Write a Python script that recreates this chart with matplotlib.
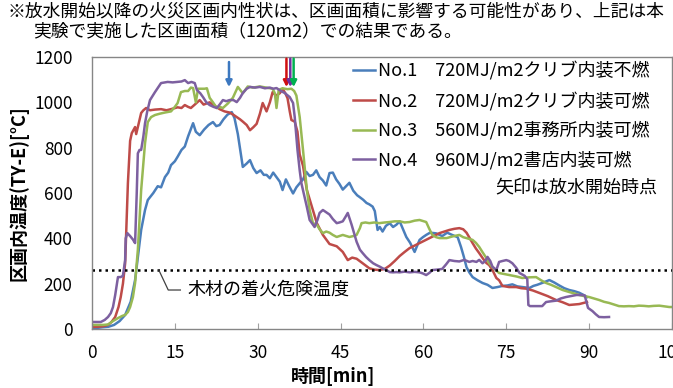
import matplotlib
matplotlib.use("Agg")
import matplotlib.pyplot as plt

plt.rcParams['font.family'] = ['Noto Sans CJK JP', 'DejaVu Sans']

# No.1 720MJ/m2 crib, noncombustible lining
t1 = [0, 1, 2, 3, 4, 5, 6, 7, 7.8, 8.3, 8.9, 9.6, 10.1, 11.1, 11.9, 12.5, 13.2, 13.8, 14.3, 15,
      15.5, 16.2, 16.8, 17.4, 18.3, 18.8, 19.5, 20.3, 21.1, 21.9, 22.5, 23.1, 23.8, 24.5, 25.3, 25.8,
      26.4, 27.3, 28, 28.6, 29.2, 29.8, 30.5, 31.1, 31.6, 32.2, 32.8, 33.4, 34, 34.5, 35.1, 35.7,
      36.4, 37, 37.6, 38.2, 38.8, 39.4, 40, 40.6, 41.2, 41.8, 42.4, 43, 43.6, 44.2, 44.8, 45.4, 46,
      46.6, 47.3, 48, 48.4, 49.1, 49.7, 50.2, 50.8, 51.2, 51.7, 52.1, 52.6, 53.2, 53.9, 54.5, 55.1,
      55.7, 56.3, 56.9, 57.6, 58.4, 59.3, 59.9, 60.5, 61.2, 62.3, 63.4, 64.3, 65.2, 66.2, 66.8, 67.3,
      67.8, 68.3, 68.9, 69.8, 70.7, 71.6, 72.5, 73.4, 74.3, 75.2, 76.1, 77, 77.9, 78.6, 79.2, 79.9,
      80.6, 81.7, 82.8, 83.7, 84.6, 85.5, 86.4, 87.3, 88.2, 89, 89.6]
T1 = [5, 5, 8, 10, 18, 35, 62, 120, 216, 318, 437, 525, 569, 600, 630, 625, 670, 690, 723, 740,
      760, 790, 805, 850, 908, 870, 855, 880, 900, 913, 895, 900, 925, 945, 957, 930,
      860, 715, 730, 745, 710, 688, 700, 680, 680, 665, 690, 670, 650, 613, 660, 630,
      598, 625, 643, 660, 693, 675, 680, 700, 670, 655, 633, 688, 690, 660, 640, 615, 630,
      645, 610, 590, 583, 570, 556, 550, 540, 520, 437, 450, 430, 455, 467, 450, 460,
      475, 440, 406, 380, 340, 393, 405, 415, 425, 422, 410, 425, 415, 405, 362, 320,
      273, 250, 229, 215, 203, 195, 181, 185, 190, 192, 197, 188, 185, 183, 181, 190,
      195, 205, 216, 205, 192, 180, 172, 167, 160, 150, 141]

# No.2 720MJ/m2 crib, combustible lining
t2 = [0, 1, 2, 2.9, 3.5, 4.2, 4.8, 5.2, 5.6, 6, 6.5, 6.9, 7.2, 7.8, 8, 8.3, 8.9, 9.3, 9.8, 10.5,
      11.4, 12.5, 13.5, 14.3, 15.5, 16.2, 16.8, 17.4, 17.9, 18.6, 19.5, 20.2, 21.3, 22.2, 23.1, 24,
      24.9, 25.6, 26.2, 26.8, 27.3, 28, 28.6, 29.2, 29.8, 30.4, 30.9, 31.6, 32.2, 32.7, 33.3, 34,
      34.5, 35, 35.4, 35.8, 36.1, 36.7, 37.2, 37.6, 38.2, 38.9, 39.8, 40.7, 41.8, 43, 44.3, 45.4,
      46.3, 47.1, 47.9, 49, 50.2, 51.1, 52, 53, 53.9, 54.8, 55.7, 56.6, 57.5, 58.4, 59.3, 60.2,
      61.1, 62, 62.9, 63.8, 64.7, 65.6, 66.5, 67.2, 67.8, 68.4, 68.9, 69.5, 70.1, 70.8, 71.4, 71.9,
      72.5, 73.2, 73.7, 74.3, 75.5, 76.8, 77.7, 78.6, 79.8, 81, 82.5, 84, 85.2, 86.4, 87.3, 88.2,
      89, 89.6]
T2 = [9, 10, 12, 18, 30, 53, 97, 141, 200, 290, 644, 830, 864, 891, 860, 891, 953, 965, 975, 965,
      968, 970, 965, 970, 978, 975, 988, 980, 975, 990, 1010, 990, 1000, 985, 970, 960,
      955, 945, 935, 925, 915, 900, 877, 890, 905, 950, 997, 960, 1000, 1045, 1030, 1040,
      1060, 1040, 1018, 960, 922, 915, 870, 770, 720, 613, 540, 467, 415, 375, 365, 340,
      304, 315, 310, 290, 268, 262, 260, 265, 280, 300, 322, 340, 357, 368, 379, 390,
      401, 412, 423, 430, 437, 442, 445, 440, 425, 400, 379, 355, 335, 310, 291, 282,
      260, 225, 215, 190, 185, 185, 180, 178, 170, 159, 145, 128, 118, 106, 108, 110,
      115, 119]

# No.3 560MJ/m2 office, combustible lining
t3 = [0, 1, 2, 2.9, 3.8, 4.7, 5.5, 6, 6.5, 6.9, 7.4, 7.8, 8.3, 8.9, 9.6, 10.1, 10.7, 11.4, 12.3,
      13.2, 14.3, 15, 15.5, 16.1, 16.8, 17.4, 17.9, 18.3, 18.8, 19.2, 19.8, 20.4, 20.8, 21.3, 21.9,
      22.6, 23.1, 23.7, 24.6, 25.5, 26.4, 27.3, 28.2, 29.1, 30.4, 31.6, 32.7, 33.1, 33.4, 33.8,
      34.5, 35.4, 36.1, 36.6, 37, 37.6, 38.2, 38.9, 39.4, 40, 40.7, 41.2, 41.8, 42.4, 43, 43.6,
      44.3, 45.4, 46.6, 47.3, 47.9, 48.5, 48.8, 49.5, 50.2, 51.1, 52, 53, 53.9, 54.8, 55.7, 56.6,
      57.5, 58.4, 59.3, 60.5, 61, 61.6, 62.3, 62.9, 64.2, 65.2, 66.5, 67.2, 67.8, 68.9, 69.5, 70.1,
      70.8, 71.4, 71.9, 72.5, 73.7, 75.5, 76.8, 77.9, 79.2, 80.4, 81.3, 82.2, 83.1, 84, 85.2, 86.4,
      87.3, 88.2, 89.1, 90, 91.8, 92.7, 93.6, 94.5, 95.4, 96.3, 97.2, 98.1, 99, 99.9, 100.8, 101.7,
      102.7, 103.6, 104.5, 105]
T3 = [18, 18, 18, 20, 35, 48, 58, 62, 75, 97, 140, 203, 349, 613, 820, 913, 935, 944, 950,
      955, 960, 980, 997, 1045, 1050, 1050, 1065, 1063, 1000, 1060, 1060, 1060, 1062, 1020, 1000,
      975, 980, 975, 995, 1020, 1068, 1040, 1070, 1065, 1070, 1065, 1060, 1040, 975, 1055,
      1062, 1058, 1060, 1050, 1030, 935, 790, 613, 525, 467, 460, 440, 423, 430, 425, 415,
      406, 415, 406, 410, 415, 445, 467, 470, 467, 470, 467, 470, 472, 475, 475, 470,
      472, 478, 481, 472, 445, 415, 405, 401, 401, 408, 415, 405, 401, 393, 380, 362,
      335, 313, 290, 273, 247, 238, 232, 225, 228, 229, 215, 203, 195, 185, 172, 163,
      157, 150, 145, 141, 128, 120, 115, 108, 101, 100, 101, 100, 103, 102, 100, 102,
      103, 100, 97, 97]

# No.4 960MJ/m2 bookstore, combustible lining
t4 = [0, 1, 1.6, 2.3, 2.9, 3.4, 3.8, 4.2, 4.7, 5.2, 5.6, 6, 6.1, 6.4, 6.9, 7.4, 7.8, 8.1, 8.3, 8.6,
      8.9, 9.3, 9.6, 10, 10.5, 11.4, 12.5, 13.7, 14.6, 15.5, 16.2, 16.8, 17.4, 18, 18.6, 19, 19.6,
      20.1, 20.7, 21.3, 22, 22.6, 23.1, 23.7, 24.3, 24.9, 25.6, 26.2, 26.8, 27.3, 28, 28.6, 29.5,
      30.4, 31.3, 32.2, 32.8, 33.4, 34.2, 34.9, 35.8, 36.4, 36.7, 37.2, 37.6, 37.9, 38.9, 39.4,
      40.3, 40.8, 41.2, 41.8, 42.4, 43, 43.6, 44.3, 44.8, 45.4, 45.9, 46.3, 47, 47.9, 48.5, 49,
      49.6, 50.2, 50.9, 51.5, 52.1, 52.6, 53.3, 53.9, 54.5, 55.1, 55.7, 56.6, 57.5, 58.4, 59.3,
      59.9, 60.5, 61.1, 61.6, 62.5, 63.4, 64.1, 64.7, 65.6, 66.5, 67.4, 68.3, 68.9, 69.6, 70.1,
      70.7, 71.2, 71.6, 72.1, 72.5, 73.2, 73.7, 74.3, 75, 75.5, 76.1, 76.8, 77.4, 78.3, 78.8, 79,
      79.3, 80.4, 81.5, 82.2, 83, 84, 84.9, 85.8, 86.8, 87.7, 88.7, 89.2, 89.5, 89.8, 90.6, 91.2,
      91.8, 92.7, 93.6]
T4 = [31, 31, 31, 40, 53, 70, 97, 150, 229, 229, 235, 304, 400, 423, 410, 395, 379, 600, 775, 790,
      790, 850, 908, 960, 1010, 1045, 1085, 1090, 1088, 1090, 1092, 1098, 1085, 1090, 1085, 1054, 1040,
      1023, 1000, 988, 980, 975, 990, 1010, 1005, 1010, 1010, 1001, 1020, 1041, 1060, 1068, 1065,
      1068, 1062, 1065, 1060, 1063, 1050, 1041, 1023, 997, 935, 790, 700, 644, 538, 481,
      450, 480, 512, 525, 515, 505, 485, 467, 470, 475, 495, 512, 460, 385, 350, 335,
      318, 304, 290, 282, 275, 268, 260, 251, 250, 251, 250, 253, 250, 252, 250,
      245, 238, 248, 260, 262, 265, 285, 304, 300, 298, 305, 296, 300, 296, 305,
      290, 300, 318, 300, 275, 260, 296, 300, 304, 300, 290, 270, 247, 235, 220, 106,
      101, 101, 101, 119, 122, 125, 135, 141, 146, 150, 150, 148, 120, 93, 79, 65,
      53, 52, 53]

labels = ["No.1\u3000720MJ/m2クリブ内装不燃",
          "No.2\u3000720MJ/m2クリブ内装可燃",
          "No.3\u3000560MJ/m2事務所内装可燃",
          "No.4\u3000960MJ/m2書店内装可燃"]
colors = ["#4A7EBB", "#BE4B48", "#98B954", "#7D60A0"]

# water discharge start (arrows)
arrow_t = [24.8, 35.2, 35.9, 36.5]
arrow_colors = ["#3C78C0", "#D01010", "#7030A0", "#00B050"]

ignition_temp = 260

fig = plt.figure(figsize=(6.73, 3.88), dpi=100)
ax = fig.add_axes([92 / 673, 59 / 388, 580 / 673, 272 / 388])

series = [(t1, T1), (t2, T2), (t3, T3), (t4, T4)]
for (t, T), c, lab in zip(series, colors, labels):
    ax.plot(t, T, color=c, lw=1.8, label=lab)

ax.axhline(ignition_temp, color='black', lw=1.8, ls=(0, (1, 1.6)))

for x, c in zip(arrow_t, arrow_colors):
    top = 1190 if x < 30 else 1205
    ax.annotate("", xy=(x, 1055), xytext=(x, top),
                arrowprops=dict(arrowstyle='-|>', color=c, lw=1.8, mutation_scale=9),
                annotation_clip=False)

# leader for ignition temp
ax.plot([12.1, 13.8, 16.0], [ignition_temp, 172, 172], color='#404040', lw=0.9)
ax.text(17.3, 172, "木材の着火危険温度", fontsize=13, va='center', ha='left')

ax.set_xlim(0, 105)
ax.set_ylim(0, 1200)
ax.set_xticks(range(0, 106, 15))
ax.set_yticks(range(0, 1201, 200))
ax.tick_params(axis='x', direction='in', length=4, color='#A0A0A0', pad=11, labelsize=12.5)
ax.tick_params(axis='y', length=0, pad=14, labelsize=12.5)
for s in ax.spines.values():
    s.set_color('#868686')
    s.set_linewidth(1.0)

ax.set_ylabel("区画内温度(TY-E)[°C]", fontsize=13, fontweight='bold', labelpad=4)
ax.set_xlabel("時間[min]", fontsize=13, fontweight='bold')
ax.xaxis.label.set_va('center')
ax.xaxis.set_label_coords(241 / 580, -(376 - 329) / 272)

leg = ax.legend(loc='upper left', bbox_to_anchor=(353 / 673, 1 - 61 / 388),
                bbox_transform=fig.transFigure, frameon=False, fontsize=13,
                handlelength=1.2, handletextpad=0.2, labelspacing=0.62,
                borderpad=0, borderaxespad=0)
ax.text(1 - 15 / 580, 1 - (187 - 57) / 272, "矢印は放水開始時点", transform=ax.transAxes,
        fontsize=13, ha='right', va='center')

fig.text(7 / 673, 1 - 12 / 388,
         "※放水開始以降の火災区画内性状は、区画面積に影響する可能性があり、上記は本",
         fontsize=12.8, ha='left', va='center')
fig.text(33 / 673, 1 - 31 / 388, "実験で実施した区画面積（120m2）での結果である。",
         fontsize=12.8, ha='left', va='center')

fig.savefig("out.png", dpi=100)
